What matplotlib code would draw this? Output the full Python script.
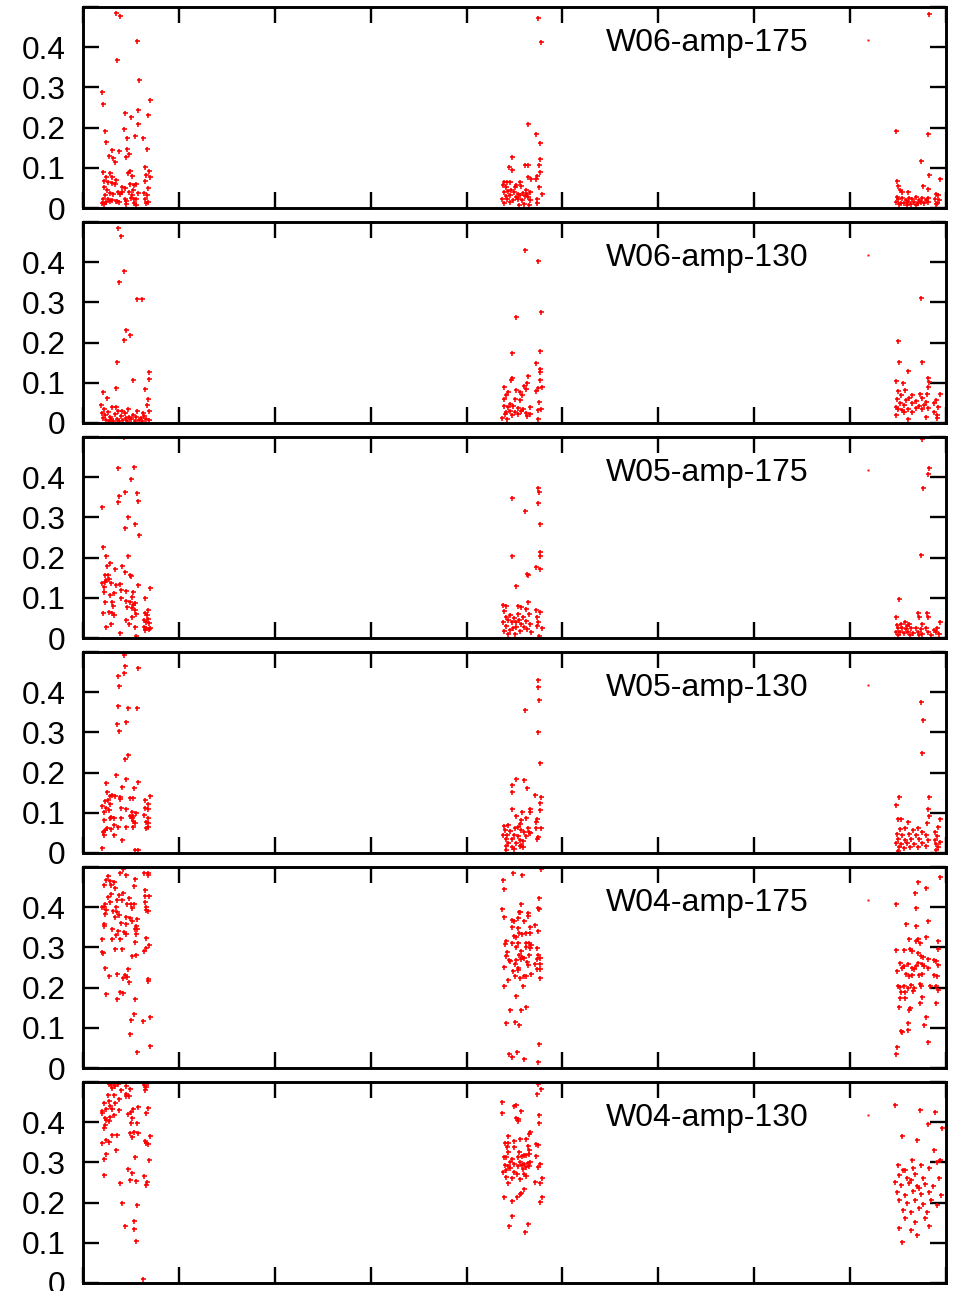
import matplotlib
matplotlib.use("Agg")
import matplotlib.pyplot as plt
from matplotlib.lines import Line2D

plt.rcParams['font.family'] = ['Liberation Sans', 'DejaVu Sans']

panel_labels = ["W06-amp-175", "W06-amp-130", "W05-amp-175",
                "W05-amp-130", "W04-amp-175", "W04-amp-130"]
y_ticks = [0, 0.1, 0.2, 0.3, 0.4, 0.5]
y_tick_labels = ["0", "0.1", "0.2", "0.3", "0.4", ""]
x_ticks = [0, 1, 2, 3, 4, 5, 6, 7, 8, 9]

# (x, y) points per panel
w06_175 = [
    (0.347,0.486),(0.382,0.478),(0.566,0.416),(0.354,0.369),(0.58,0.318),(0.194,0.289),(0.205,0.258),
    (0.694,0.268),(0.441,0.237),(0.573,0.243),(0.497,0.227),(0.681,0.232),(0.573,0.209),(0.427,0.197),
    (0.229,0.191),(0.462,0.175),(0.542,0.179),(0.628,0.175),(0.240,0.165),(0.299,0.144),(0.375,0.142),
    (0.455,0.146),(0.667,0.146),(0.271,0.129),(0.316,0.125),(0.479,0.134),(0.451,0.128),(0.333,0.114),
    (0.205,0.090),(0.278,0.088),(0.493,0.093),(0.646,0.101),(0.684,0.093),(0.236,0.078),(0.299,0.078),
    (0.340,0.070),(0.469,0.086),(0.51,0.080),(0.66,0.082),(0.694,0.076),(0.215,0.068),(0.26,0.065),
    (0.306,0.061),(0.219,0.053),(0.33,0.060),(0.41,0.053),(0.49,0.059),(0.528,0.057),(0.556,0.060),
    (0.649,0.067),(0.25,0.045),(0.285,0.038),(0.368,0.041),(0.4375,0.049),(0.521,0.045),(0.569,0.038),
    (0.674,0.049),(0.229,0.032),(0.3125,0.036),(0.389,0.034),(0.476,0.039),(0.514,0.032),(0.639,0.038),
    (0.663,0.032),(0.208,0.022),(0.257,0.023),(0.299,0.020),(0.358,0.017),(0.434,0.022),(0.503,0.024),
    (0.556,0.022),(0.646,0.023),(0.194,0.012),(0.243,0.015),(0.278,0.017),(0.375,0.015),(0.451,0.017),
    (0.528,0.012),(0.653,0.012),(0.677,0.015),(0.222,0.010),(0.448,0.010),(0.556,0.007),(0.340,0.018),
    (0.41,0.039),(0.528,0.022),
    (4.747,0.472),(4.778,0.413),(4.636,0.209),(4.723,0.185),(4.771,0.161),(4.476,0.128),(4.764,0.123),
    (4.441,0.101),(4.476,0.094),(4.608,0.107),(4.643,0.108),(4.754,0.108),(4.639,0.078),(4.671,0.072),
    (4.726,0.073),(4.737,0.080),(4.771,0.089),(4.754,0.051),(4.393,0.065),(4.421,0.065),(4.448,0.065),
    (4.553,0.065),(4.379,0.057),(4.414,0.053),(4.511,0.057),(4.566,0.055),(4.466,0.046),(4.386,0.041),
    (4.431,0.043),(4.49,0.041),(4.539,0.036),(4.587,0.038),(4.629,0.036),(4.657,0.040),(4.407,0.030),
    (4.455,0.032),(4.518,0.028),(4.559,0.033),(4.605,0.030),(4.643,0.028),(4.372,0.022),(4.421,0.022),
    (4.483,0.020),(4.532,0.023),(4.58,0.020),(4.664,0.020),(4.393,0.012),(4.448,0.016),(4.546,0.008),
    (4.601,0.010),(4.65,0.008),(4.733,0.012),(4.782,0.036),(4.737,0.023),(4.50,0.053),(4.622,0.045),
    (8.823,0.483),(8.479,0.191),(8.813,0.185),(8.743,0.116),(8.823,0.083),(8.938,0.072),(8.493,0.067),
    (8.757,0.055),(8.504,0.055),(8.517,0.045),(8.809,0.048),(8.608,0.041),(8.538,0.041),(8.892,0.036),
    (8.917,0.032),(8.49,0.028),(8.545,0.024),(8.58,0.020),(8.615,0.026),(8.649,0.022),(8.684,0.028),
    (8.719,0.020),(8.753,0.025),(8.788,0.020),(8.476,0.016),(8.528,0.013),(8.566,0.012),(8.604,0.015),
    (8.635,0.010),(8.67,0.015),(8.705,0.012),(8.74,0.015),(8.774,0.012),(8.809,0.015),(8.885,0.022),
    (8.91,0.013),(8.927,0.020),(8.51,0.010),(8.594,0.008),(8.684,0.007),(8.892,0.010),(8.816,0.026),
    (8.504,0.022),
]

w06_130 = [
    (0.365,0.484),(0.396,0.465),(0.427,0.378),(0.375,0.350),(0.5625,0.308),(0.615,0.308),(0.448,0.231),
    (0.49,0.219),(0.427,0.206),(0.354,0.152),(0.6875,0.127),(0.6875,0.109),(0.208,0.077),(0.25,0.062),
    (0.344,0.087),(0.521,0.107),(0.646,0.085),
    (0.19,0.045),(0.22,0.035),(0.26,0.028),(0.30,0.040),(0.33,0.022),(0.36,0.030),(0.40,0.018),
    (0.44,0.025),(0.48,0.015),(0.52,0.020),(0.56,0.030),(0.60,0.012),(0.64,0.018),(0.67,0.045),
    (0.69,0.030),(0.21,0.012),(0.24,0.008),(0.28,0.015),(0.31,0.006),(0.35,0.010),(0.38,0.005),
    (0.42,0.008),(0.46,0.006),(0.50,0.010),(0.54,0.006),(0.58,0.008),(0.62,0.005),(0.66,0.010),
    (0.69,0.008),(0.23,0.020),(0.27,0.005),(0.45,0.012),(0.55,0.015),(0.63,0.025),(0.20,0.025),
    (0.34,0.040),(0.47,0.035),(0.68,0.060),(0.29,0.010),(0.41,0.030),
    (4.605,0.430),(4.747,0.404),(4.518,0.263),(4.778,0.275),(4.476,0.173),(4.771,0.180),(4.723,0.150),
    (4.768,0.135),(4.768,0.126),(4.636,0.118),(4.761,0.106),(4.476,0.113),(4.462,0.108),(4.629,0.099),
    (4.594,0.093),(4.393,0.089),(4.785,0.089),(4.743,0.086),(4.726,0.080),(4.615,0.084),(4.518,0.083),
    (4.553,0.078),(4.434,0.078),(4.407,0.070),(4.580,0.070),(4.386,0.060),(4.504,0.059),(4.559,0.057),
    (4.455,0.048),(4.754,0.051),(4.393,0.043),(4.434,0.041),(4.483,0.043),(4.532,0.038),(4.587,0.036),
    (4.657,0.041),(4.778,0.036),(4.74,0.032),(4.414,0.028),(4.455,0.030),(4.504,0.028),(4.573,0.030),
    (4.622,0.026),(4.664,0.022),(4.40,0.022),(4.532,0.023),(4.372,0.013),(4.421,0.010),(4.629,0.018),
    (4.74,0.010),(4.469,0.020),
    (8.743,0.311),(8.504,0.205),(8.51,0.152),(8.75,0.152),(8.601,0.130),(8.813,0.113),(8.823,0.103),
    (8.483,0.105),(8.816,0.090),(8.549,0.099),(8.497,0.080),(8.573,0.082),(8.934,0.071),(8.726,0.073),
    (8.802,0.073),(8.531,0.070),(8.642,0.070),(8.754,0.063),(8.892,0.057),(8.49,0.060),(8.58,0.057),
    (8.615,0.061),(8.684,0.055),(8.788,0.053),(8.517,0.049),(8.559,0.045),(8.649,0.049),(8.719,0.043),
    (8.767,0.046),(8.92,0.041),(8.879,0.049),(8.476,0.041),(8.504,0.035),(8.545,0.032),(8.608,0.036),
    (8.691,0.038),(8.747,0.035),(8.816,0.038),(8.476,0.020),(8.601,0.010),(8.788,0.015),(8.906,0.020),
    (8.91,0.012),(8.649,0.028),(8.559,0.028),(8.875,0.028),
]

w05_175 = [
    (0.427,0.499),(0.365,0.424),(0.528,0.425),(0.5,0.395),(0.4375,0.363),(0.566,0.361),(0.375,0.353),
    (0.368,0.338),(0.573,0.340),(0.194,0.327),(0.469,0.301),(0.4375,0.274),(0.542,0.284),(0.58,0.257),
    (0.205,0.227),(0.243,0.205),(0.465,0.205),(0.278,0.186),(0.25,0.179),(0.406,0.179),(0.33,0.171),
    (0.441,0.163),(0.229,0.157),(0.26,0.156),(0.271,0.147),(0.493,0.157),(0.243,0.144),(0.5,0.154),
    (0.201,0.136),(0.226,0.140),(0.292,0.137),(0.34,0.132),(0.389,0.134),(0.569,0.132),(0.215,0.128),
    (0.694,0.124),(0.392,0.119),(0.451,0.118),(0.521,0.114),(0.215,0.115),(0.319,0.113),(0.278,0.107),
    (0.507,0.103),(0.646,0.100),(0.396,0.099),(0.444,0.093),(0.229,0.089),(0.302,0.089),(0.493,0.089),
    (0.538,0.086),(0.3125,0.080),(0.521,0.083),(0.462,0.076),(0.51,0.074),(0.538,0.070),(0.681,0.070),
    (0.205,0.062),(0.274,0.064),(0.302,0.061),(0.319,0.057),(0.556,0.060),(0.646,0.063),(0.667,0.057),
    (0.514,0.053),(0.674,0.047),(0.451,0.046),(0.639,0.045),(0.295,0.036),(0.483,0.036),(0.653,0.041),
    (0.6875,0.038),(0.236,0.028),(0.538,0.028),(0.639,0.028),(0.66,0.024),(0.684,0.022),(0.694,0.026),
    (0.382,0.012),(0.556,0.005),(0.646,0.020),
    (4.75,0.374),(4.754,0.364),(4.473,0.349),(4.605,0.316),(4.75,0.337),(4.761,0.283),(4.768,0.214),
    (4.476,0.204),(4.768,0.203),(4.723,0.176),(4.771,0.171),(4.632,0.160),(4.636,0.157),(4.511,0.130),
    (4.643,0.089),(4.379,0.082),(4.407,0.080),(4.539,0.080),(4.566,0.078),(4.615,0.071),(4.726,0.070),
    (4.761,0.065),(4.393,0.067),(4.532,0.060),(4.65,0.059),(4.448,0.057),(4.587,0.053),(4.407,0.051),
    (4.49,0.049),(4.733,0.053),(4.434,0.044),(4.546,0.045),(4.622,0.042),(4.379,0.039),(4.469,0.039),
    (4.511,0.041),(4.573,0.036),(4.657,0.034),(4.74,0.041),(4.414,0.031),(4.518,0.028),(4.601,0.027),
    (4.733,0.031),(4.785,0.024),(4.393,0.017),(4.455,0.020),(4.559,0.017),(4.671,0.016),(4.434,0.009),
    (4.504,0.009),(4.754,0.006),(4.483,0.024),(4.629,0.022),
    (8.754,0.496),(8.823,0.424),(8.813,0.407),(8.757,0.372),(8.743,0.207),(8.507,0.096),(8.483,0.051),
    (8.712,0.061),(8.802,0.061),(8.719,0.053),(8.816,0.053),(8.934,0.039),(8.573,0.039),(8.531,0.036),
    (8.49,0.032),(8.615,0.034),(8.754,0.036),(8.504,0.024),(8.545,0.026),(8.587,0.022),(8.635,0.024),
    (8.684,0.026),(8.736,0.022),(8.788,0.024),(8.91,0.024),(8.476,0.016),(8.524,0.014),(8.566,0.012),
    (8.608,0.016),(8.656,0.012),(8.705,0.014),(8.754,0.011),(8.809,0.014),(8.892,0.014),(8.927,0.011),
    (8.504,0.007),(8.629,0.007),(8.719,0.007),(8.844,0.007),(8.878,0.019),(8.594,0.031),
]

w05_130 = [
    (0.427,0.492),(0.4375,0.465),(0.573,0.459),(0.427,0.447),(0.365,0.441),(0.375,0.416),(0.368,0.365),
    (0.472,0.361),(0.566,0.360),(0.351,0.320),(0.448,0.326),(0.375,0.303),(0.4375,0.235),(0.465,0.243),
    (0.34,0.194),(0.243,0.175),(0.444,0.183),(0.573,0.177),(0.535,0.161),(0.41,0.165),(0.25,0.152),
    (0.306,0.144),(0.278,0.142),(0.33,0.142),(0.389,0.140),(0.486,0.136),(0.521,0.137),(0.694,0.142),
    (0.646,0.133),(0.257,0.132),(0.229,0.130),(0.389,0.135),(0.285,0.123),(0.681,0.123),(0.201,0.117),
    (0.236,0.111),(0.646,0.113),(0.681,0.109),(0.396,0.111),(0.451,0.109),(0.222,0.103),(0.271,0.107),
    (0.507,0.103),(0.632,0.094),(0.486,0.092),(0.521,0.092),(0.549,0.099),(0.292,0.090),(0.319,0.088),
    (0.681,0.088),(0.278,0.086),(0.215,0.082),(0.507,0.086),(0.396,0.088),(0.66,0.078),(0.538,0.074),
    (0.521,0.080),(0.319,0.070),(0.681,0.074),(0.653,0.061),(0.368,0.065),(0.25,0.061),(0.444,0.065),
    (0.521,0.065),(0.229,0.057),(0.295,0.059),(0.208,0.051),(0.319,0.045),(0.41,0.032),(0.194,0.012),
    (0.542,0.007),(0.576,0.007),(0.215,0.045),(0.674,0.065),
    (4.75,0.430),(4.747,0.412),(4.757,0.380),(4.605,0.356),(4.743,0.300),(4.764,0.224),(4.511,0.184),
    (4.601,0.182),(4.476,0.169),(4.629,0.162),(4.469,0.151),(4.719,0.145),(4.778,0.140),(4.761,0.125),
    (4.476,0.109),(4.580,0.101),(4.664,0.109),(4.768,0.106),(4.664,0.103),(4.511,0.093),(4.615,0.088),
    (4.573,0.083),(4.737,0.084),(4.553,0.073),(4.726,0.078),(4.386,0.068),(4.434,0.070),(4.639,0.063),
    (4.726,0.061),(4.778,0.061),(4.504,0.063),(4.539,0.065),(4.40,0.056),(4.455,0.055),(4.566,0.056),
    (4.601,0.053),(4.65,0.051),(4.379,0.046),(4.421,0.045),(4.49,0.046),(4.532,0.043),(4.622,0.042),
    (4.74,0.041),(4.733,0.034),(4.407,0.035),(4.469,0.035),(4.553,0.033),(4.587,0.030),(4.434,0.024),
    (4.518,0.024),(4.573,0.020),(4.407,0.018),(4.469,0.015),(4.553,0.017),(4.414,0.007),(4.497,0.010),
    (4.587,0.016),(4.657,0.049),
    (8.743,0.376),(8.757,0.330),(8.75,0.248),(8.51,0.140),(8.823,0.139),(8.476,0.120),(8.816,0.109),
    (8.823,0.093),(8.934,0.085),(8.504,0.085),(8.531,0.085),(8.601,0.078),(8.802,0.074),(8.712,0.063),
    (8.92,0.065),(8.517,0.060),(8.573,0.063),(8.656,0.056),(8.754,0.051),(8.885,0.053),(8.49,0.048),
    (8.545,0.045),(8.615,0.048),(8.684,0.045),(8.788,0.046),(8.91,0.043),(8.504,0.036),(8.573,0.032),
    (8.635,0.036),(8.719,0.035),(8.809,0.032),(8.885,0.032),(8.476,0.025),(8.531,0.022),(8.594,0.025),
    (8.663,0.022),(8.754,0.026),(8.892,0.022),(8.934,0.028),(8.51,0.015),(8.559,0.013),(8.628,0.015),
    (8.705,0.015),(8.788,0.017),(8.913,0.015),(8.504,0.005),(8.892,0.007),
]

w04_175 = [
    (0.42,0.496),(0.389,0.486),(0.448,0.480),(0.632,0.485),(0.677,0.485),(0.681,0.480),(0.264,0.477),
    (0.538,0.471),(0.243,0.467),(0.278,0.465),(0.323,0.463),(0.219,0.455),(0.295,0.455),(0.528,0.452),
    (0.33,0.449),(0.646,0.442),(0.417,0.436),(0.292,0.432),(0.375,0.430),(0.264,0.426),(0.649,0.427),
    (0.6875,0.427),(0.479,0.423),(0.354,0.419),(0.403,0.419),(0.285,0.413),(0.646,0.414),(0.462,0.409),
    (0.503,0.409),(0.528,0.409),(0.229,0.407),(0.347,0.401),(0.201,0.401),(0.222,0.401),(0.66,0.401),
    (0.507,0.398),(0.3125,0.391),(0.243,0.393),(0.653,0.393),(0.681,0.391),(0.354,0.387),(0.229,0.384),
    (0.375,0.381),(0.444,0.375),(0.333,0.375),(0.486,0.374),(0.5625,0.370),(0.396,0.361),(0.514,0.366),
    (0.451,0.359),(0.215,0.359),(0.215,0.354),(0.556,0.354),(0.542,0.347),(0.5625,0.347),(0.306,0.346),
    (0.368,0.341),(0.424,0.339),(0.444,0.334),(0.556,0.334),(0.34,0.330),(0.299,0.322),(0.382,0.321),
    (0.201,0.321),(0.66,0.323),(0.542,0.314),(0.6875,0.307),(0.333,0.296),(0.403,0.295),(0.66,0.299),
    (0.639,0.292),(0.194,0.289),(0.208,0.285),(0.549,0.282),(0.507,0.279),(0.229,0.249),(0.472,0.246),
    (0.271,0.229),(0.354,0.234),(0.441,0.231),(0.455,0.227),(0.413,0.223),(0.476,0.213),(0.674,0.222),
    (0.674,0.217),(0.236,0.185),(0.382,0.189),(0.417,0.187),(0.358,0.171),(0.542,0.171),(0.528,0.134),
    (0.497,0.119),(0.628,0.117),(0.694,0.127),(0.486,0.084),(0.694,0.055),(0.566,0.039),
    (4.483,0.486),(4.58,0.480),(4.379,0.467),(4.393,0.445),(4.778,0.496),(4.754,0.422),(4.372,0.395),
    (4.57,0.407),(4.743,0.398),(4.754,0.396),(4.546,0.387),(4.559,0.388),(4.636,0.386),(4.643,0.378),
    (4.393,0.376),(4.539,0.374),(4.476,0.367),(4.49,0.365),(4.601,0.365),(4.664,0.351),(4.719,0.355),
    (4.469,0.351),(4.532,0.349),(4.747,0.341),(4.546,0.335),(4.58,0.333),(4.622,0.336),(4.657,0.337),
    (4.497,0.328),(4.511,0.325),(4.414,0.316),(4.40,0.309),(4.469,0.310),(4.622,0.311),(4.65,0.310),
    (4.671,0.306),(4.532,0.310),(4.511,0.300),(4.573,0.292),(4.622,0.300),(4.664,0.299),(4.733,0.299),
    (4.421,0.289),(4.414,0.279),(4.65,0.282),(4.546,0.281),(4.58,0.277),(4.601,0.274),(4.74,0.282),
    (4.768,0.274),(4.733,0.272),(4.441,0.269),(4.455,0.266),(4.518,0.268),(4.566,0.272),(4.629,0.264),
    (4.719,0.258),(4.761,0.258),(4.504,0.258),(4.393,0.252),(4.539,0.249),(4.636,0.256),(4.483,0.241),
    (4.768,0.246),(4.532,0.243),(4.733,0.246),(4.667,0.233),(4.504,0.229),(4.553,0.225),(4.601,0.229),
    (4.622,0.229),(4.768,0.223),(4.428,0.220),(4.386,0.205),(4.587,0.204),(4.511,0.179),(4.625,0.152),
    (4.566,0.144),(4.455,0.144),(4.414,0.113),(4.504,0.115),(4.546,0.106),(4.757,0.060),(4.441,0.034),
    (4.525,0.040),(4.469,0.028),(4.594,0.022),(4.747,0.014),
    (8.934,0.475),(8.712,0.462),(8.788,0.448),(8.674,0.436),(8.476,0.408),(8.691,0.398),(8.809,0.366),
    (8.58,0.359),(8.684,0.354),(8.913,0.316),(8.615,0.321),(8.712,0.322),(8.795,0.325),(8.684,0.316),
    (8.726,0.310),(8.483,0.293),(8.559,0.293),(8.628,0.296),(8.642,0.291),(8.913,0.297),(8.74,0.279),
    (8.705,0.285),(8.76,0.277),(8.809,0.272),(8.872,0.268),(8.517,0.260),(8.559,0.254),(8.608,0.258),
    (8.712,0.262),(8.754,0.259),(8.892,0.266),(8.92,0.256),(8.49,0.241),(8.538,0.248),(8.642,0.249),
    (8.663,0.246),(8.684,0.254),(8.774,0.254),(8.816,0.249),(8.587,0.235),(8.615,0.229),(8.649,0.231),
    (8.719,0.231),(8.754,0.235),(8.878,0.231),(8.91,0.228),(8.504,0.205),(8.524,0.202),(8.559,0.205),
    (8.601,0.200),(8.635,0.206),(8.67,0.200),(8.726,0.210),(8.74,0.205),(8.837,0.205),(8.892,0.205),
    (8.913,0.194),(8.531,0.190),(8.573,0.190),(8.656,0.191),(8.517,0.173),(8.573,0.175),(8.746,0.177),
    (8.51,0.151),(8.628,0.150),(8.726,0.161),(8.892,0.161),(8.615,0.144),(8.788,0.128),(8.601,0.111),
    (8.767,0.107),(8.531,0.093),(8.545,0.090),(8.601,0.094),(8.809,0.065),(8.49,0.051),(8.483,0.034),
]

w04_130 = [
    (0.271,0.496),(0.292,0.492),(0.319,0.499),(0.368,0.495),(0.333,0.489),(0.306,0.486),(0.444,0.490),
    (0.639,0.492),(0.681,0.497),(0.653,0.488),(0.396,0.480),(0.493,0.482),(0.646,0.480),(0.444,0.469),
    (0.264,0.467),(0.326,0.467),(0.451,0.464),(0.479,0.464),(0.375,0.458),(0.271,0.452),(0.215,0.447),
    (0.333,0.449),(0.285,0.441),(0.236,0.434),(0.299,0.433),(0.375,0.431),(0.521,0.434),(0.681,0.435),
    (0.573,0.437),(0.194,0.427),(0.201,0.424),(0.465,0.420),(0.5,0.425),(0.66,0.424),(0.319,0.417),
    (0.285,0.413),(0.229,0.411),(0.507,0.411),(0.271,0.402),(0.236,0.406),(0.5,0.399),(0.5625,0.399),
    (0.229,0.393),(0.222,0.386),(0.306,0.369),(0.354,0.368),(0.486,0.372),(0.535,0.375),(0.576,0.374),
    (0.514,0.363),(0.694,0.366),(0.646,0.354),(0.66,0.349),(0.674,0.345),(0.236,0.355),(0.271,0.350),
    (0.201,0.348),(0.34,0.330),(0.243,0.321),(0.215,0.309),(0.542,0.314),(0.6875,0.307),(0.465,0.284),
    (0.507,0.274),(0.222,0.268),(0.632,0.266),(0.486,0.256),(0.549,0.254),(0.382,0.249),(0.667,0.251),
    (0.653,0.243),(0.41,0.199),(0.5625,0.194),(0.535,0.155),(0.4375,0.142),(0.528,0.135),(0.549,0.105),
    (0.625,0.010),
    (4.75,0.494),(4.778,0.482),(4.737,0.469),(4.372,0.451),(4.49,0.440),(4.518,0.442),(4.566,0.427),
    (4.372,0.422),(4.754,0.419),(4.511,0.411),(4.539,0.407),(4.539,0.402),(4.754,0.398),(4.664,0.376),
    (4.65,0.370),(4.434,0.365),(4.559,0.359),(4.615,0.359),(4.40,0.349),(4.428,0.349),(4.49,0.352),
    (4.726,0.345),(4.747,0.343),(4.421,0.338),(4.497,0.339),(4.636,0.341),(4.65,0.332),(4.434,0.326),
    (4.546,0.326),(4.601,0.318),(4.622,0.318),(4.65,0.322),(4.386,0.314),(4.414,0.313),(4.532,0.314),
    (4.58,0.315),(4.726,0.315),(4.469,0.308),(4.448,0.300),(4.559,0.302),(4.601,0.297),(4.636,0.298),
    (4.664,0.300),(4.768,0.295),(4.40,0.293),(4.434,0.292),(4.497,0.295),(4.539,0.290),(4.58,0.293),
    (4.615,0.289),(4.65,0.292),(4.74,0.289),(4.587,0.283),(4.414,0.282),(4.455,0.287),(4.379,0.275),
    (4.49,0.275),(4.525,0.272),(4.601,0.272),(4.615,0.267),(4.414,0.263),(4.476,0.260),(4.553,0.258),
    (4.782,0.260),(4.719,0.252),(4.768,0.248),(4.428,0.248),(4.594,0.234),(4.566,0.224),(4.559,0.221),
    (4.393,0.215),(4.525,0.213),(4.782,0.213),(4.476,0.205),(4.768,0.202),(4.469,0.167),(4.441,0.142),
    (4.636,0.148),(4.605,0.128),
    (8.469,0.442),(8.729,0.430),(8.885,0.425),(8.813,0.395),(8.958,0.385),(8.542,0.365),(8.698,0.355),
    (8.875,0.330),(8.646,0.306),(8.938,0.306),(8.50,0.293),(8.573,0.281),(8.656,0.286),(8.74,0.293),
    (8.823,0.286),(8.906,0.301),(8.51,0.268),(8.594,0.261),(8.677,0.271),(8.76,0.261),(8.531,0.243),
    (8.615,0.248),(8.698,0.241),(8.781,0.246),(8.865,0.241),(8.49,0.226),(8.573,0.219),(8.656,0.229),
    (8.74,0.221),(8.823,0.226),(8.948,0.219),(8.51,0.206),(8.594,0.199),(8.677,0.206),(8.76,0.196),
    (8.844,0.206),(8.552,0.181),(8.635,0.176),(8.719,0.186),(8.802,0.176),(8.906,0.194),(8.573,0.161),
    (8.677,0.152),(8.781,0.161),(8.51,0.137),(8.635,0.132),(8.823,0.142),(8.542,0.102),(8.698,0.119),
    (8.635,0.256),(8.719,0.236),(8.552,0.281),(8.927,0.261),(8.469,0.251),
]

panels = [w06_175, w06_130, w05_175, w05_130, w04_175, w04_130]

W, H = 972, 1291
fig = plt.figure(figsize=(W / 100, H / 100), dpi=100)

for i, (label, pts) in enumerate(zip(panel_labels, panels)):
    top = 7 + 215 * i
    ax = fig.add_axes([83 / W, 1 - (top + 201) / H, 863 / W, 201 / H])
    xs = [p[0] for p in pts]
    ys = [p[1] for p in pts]
    ax.plot(xs, ys, ls='none', marker='+', ms=3.6, mew=1.15, color='#ff0000')
    ax.set_xlim(0, 9)
    ax.set_ylim(0, 0.5)
    ax.set_xticks(x_ticks)
    ax.set_xticklabels([])
    ax.set_yticks(y_ticks)
    ax.set_yticklabels(y_tick_labels)
    ax.tick_params(direction='in', length=11.5, width=1.7, top=True, right=True,
                   labelsize=22.8, pad=12.5, colors='black')
    for s in ax.spines.values():
        s.set_linewidth(2.1)
    handle = Line2D([], [], ls='none', marker='s', ms=1.4, mew=0, color='#ff0000')
    ax.legend([handle], [label], loc='center right', bbox_to_anchor=(0.9277, 0.82),
              markerfirst=False, frameon=False, borderpad=0, borderaxespad=0,
              handlelength=1.0, handletextpad=1.36, fontsize=23)

fig.savefig('out.png', dpi=100)
